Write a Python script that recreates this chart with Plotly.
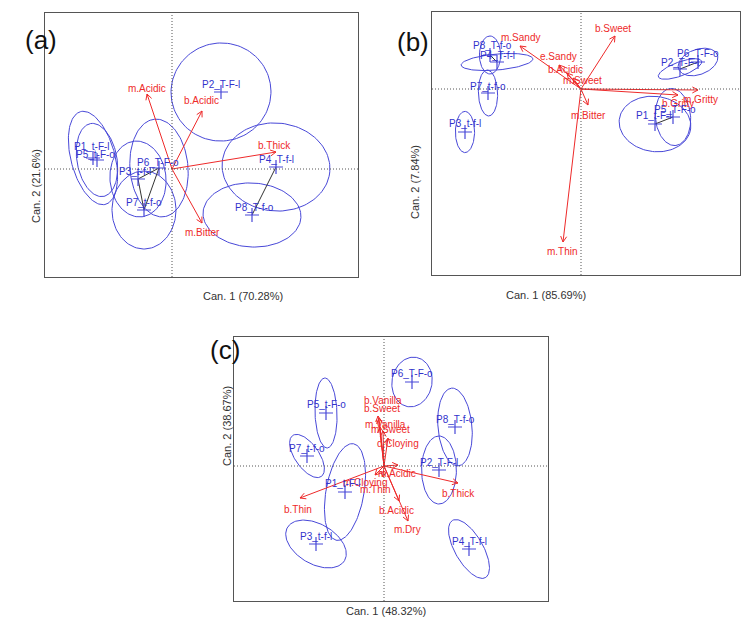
import numpy as np
import plotly.graph_objects as go

# ---------------- panel (a) ----------------
a_groups = ["P1_t-F-l", "P2_T-F-l", "P3_t-f-l", "P4_T-f-l",
            "P5_t-F-o", "P6_T-F-o", "P7_t-f-o", "P8_T-f-o"]
a_can1 = [-3.95, 2.45, -1.7, 5.2, -3.75, -0.65, -1.4, 4.0]
a_can2 = [0.55, 3.85, -0.5, 0.1, 0.45, 0.05, -2.05, -2.3]
a_ell_major = [2.4, 2.5, 1.9, 2.7, 1.85, 2.45, 1.95, 2.45]
a_ell_minor = [1.1, 2.45, 1.4, 2.2, 1.0, 1.45, 1.6, 1.6]
a_ell_angle = [105, 10, 95, -5, 100, 95, 90, -3]
a_vars = ["m.Acidic", "b.Acidic", "b.Thick", "m.Bitter"]
a_vx = [-1.25, 1.5, 5.2, 1.5]
a_vy = [3.75, 2.9, 0.85, -2.7]
a_links = [("P3_t-f-l", "P6_T-F-o"), ("P6_T-F-o", "P7_t-f-o"),
           ("P3_t-f-l", "P7_t-f-o"), ("P4_T-f-l", "P8_T-f-o")]

# ---------------- panel (b) ----------------
b_groups = ["P1_t-F-l", "P2_T-F-l", "P3_t-f-l", "P4_T-f-l",
            "P5_T-F-o", "P6_T-F-o", "P7_t-f-o", "P8_T-f-o"]
b_can1 = [3.7, 4.95, -5.8, -4.2, 4.6, 5.85, -4.65, -4.55]
b_can2 = [-1.75, 1.0, -2.15, 1.35, -1.4, 1.35, -0.2, 1.7]
b_ell_major = [1.8, 1.15, 1.03, 1.8, 1.43, 1.03, 1.15, 0.95]
b_ell_minor = [1.38, 0.35, 0.48, 0.4, 0.88, 0.63, 0.48, 0.53]
b_ell_angle = [-8, 20, 90, 5, 95, 20, 92, 90]
b_vars = ["m.Sandy", "e.Sandy", "b.Acidic", "m.Sweet", "b.Sweet",
          "m.Bitter", "m.Thin", "m.Gritty", "b.Gritty"]
b_vx = [-3.05, -1.1, -0.7, -0.4, 1.7, 0.35, -0.9, 5.85, 4.85]
b_vy = [2.15, 1.2, 0.8, 0.55, 2.65, -0.8, -7.65, -0.05, -0.3]
b_links = [("P8_T-f-o", "P4_T-f-l"), ("P2_T-F-l", "P6_T-F-o"),
           ("P1_t-F-l", "P5_T-F-o")]

# ---------------- panel (c) ----------------
c_groups = ["P1_t-F-l", "P2_T-F-l", "P3_t-f-l", "P4_T-f-l",
            "P5_t-F-o", "P6_T-F-o", "P7_t-f-o", "P8_T-f-o"]
c_can1 = [-1.95, 2.75, -3.4, 4.25, -2.9, 1.4, -3.85, 3.55]
c_can2 = [-1.3, -0.2, -3.9, -4.15, 2.65, 4.2, 0.5, 1.95]
c_ell_major = [2.45, 1.7, 1.65, 1.65, 1.75, 1.25, 1.25, 1.95]
c_ell_minor = [0.95, 0.87, 1.0, 0.7, 0.55, 1.0, 0.6, 0.85]
c_ell_angle = [80, 90, -30, 120, 92, 80, 125, 95]
c_vars = ["b.Thin", "b.Thick", "b.Acidic", "m.Dry", "b.Vanilla", "b.Sweet",
          "m.Vanilla", "m.Sweet", "d.Cloying", "m.Acidic", "m.Cloying", "m.Thin"]
c_vx = [-4.2, 3.7, 0.75, 1.2, -0.3, -0.25, -0.2, -0.05, 0.2, 0.7, -0.45, -0.05]
c_vy = [-1.6, -0.85, -1.75, -2.75, 2.5, 2.4, 1.95, 1.75, 1.4, 0.05, -0.45, -0.55]
c_links = []

# ---------------- styling / placement ----------------
W, H = 741, 625
PX_PER_UNIT = 20.0
FONT = "Liberation Sans, Arial, sans-serif"
BLUE_LINE = "#4848d8"
BLUE_TEXT = "#3232cc"
RED = "#ee2a2a"
FRAME = "#555555"

# label offsets in pixels (dx, dy up)
a_var_shift = [(0, 6), (-1, 11), (-2, 7), (0, -9)]
b_var_shift = [(0, 9), (-1, 9), (-2, 4), (9, -2), (-2, 8), (0, -10), (-1, -9), (2, -9), (0, -8)]
c_var_shift = [(-2, -11), (0, -10), (-3, -9), (-1, -8), (5, 16), (3, 10),
               (5, 3), (7, 2), (10, -5), (-1, -8), (-10, -7), (-8, -12)]
a_grp_shift = [(-1, 12), (0, 8), (-3, 8), (0, 8), (-2, 6), (-1, 6), (0, 8), (2, 8)]
b_grp_shift = [(-1, 9), (0, 7), (0, 9), (1, 7), (2, 8), (0, 9), (0, 7), (3, 10)]
c_grp_shift = [(-2, 9), (0, 8), (0, 8), (0, 8), (0, 9), (0, 9), (0, 8), (0, 8)]

# frame boxes in pixels: left, right, top, bottom; origin pixel (x0, y0)
panels = [
    dict(box=(45, 358, 13, 277), origin=(172, 169), tag="(a)", tag_xy=(23, 23),
         xt="Can. 1 (70.28%)", xt_xy=(201, 296), yt="Can. 2 (21.6%)", yt_xy=(28, 147),
         groups=a_groups, cx=a_can1, cy=a_can2, ea=a_ell_major, eb=a_ell_minor, eang=a_ell_angle,
         vars=a_vars, vx=a_vx, vy=a_vy, links=a_links, vshift=a_var_shift, gshift=a_grp_shift),
    dict(box=(432, 740, 12, 275), origin=(581, 89), tag="(b)", tag_xy=(413, 25),
         xt="Can. 1 (85.69%)", xt_xy=(588, 295), yt="Can. 2 (7.84%)", yt_xy=(415, 143),
         groups=b_groups, cx=b_can1, cy=b_can2, ea=b_ell_major, eb=b_ell_minor, eang=b_ell_angle,
         vars=b_vars, vx=b_vx, vy=b_vy, links=b_links, vshift=b_var_shift, gshift=b_grp_shift),
    dict(box=(234, 548, 337, 601), origin=(384, 466), tag="(c)", tag_xy=(208, 350),
         xt="Can. 1 (48.32%)", xt_xy=(386, 619), yt="Can. 2 (38.67%)", yt_xy=(219, 468),
         groups=c_groups, cx=c_can1, cy=c_can2, ea=c_ell_major, eb=c_ell_minor, eang=c_ell_angle,
         vars=c_vars, vx=c_vx, vy=c_vy, links=c_links, vshift=c_var_shift, gshift=c_grp_shift),
]


def ellipse(x0, y0, a, b, ang_deg, n=120):
    t = np.linspace(0, 2 * np.pi, n)
    th = np.deg2rad(ang_deg)
    ex = a * np.cos(t)
    ey = b * np.sin(t)
    return (x0 + ex * np.cos(th) - ey * np.sin(th),
            y0 + ex * np.sin(th) + ey * np.cos(th))


fig = go.Figure()
annotations = []
shapes = []
layout_axes = {}

for i, p in enumerate(panels):
    k = "" if i == 0 else str(i + 1)
    xa, ya = "x" + k, "y" + k
    left, right, top, bottom = p["box"]
    ox, oy = p["origin"]
    xr = [(left - ox) / PX_PER_UNIT, (right - ox) / PX_PER_UNIT]
    yr = [(oy - bottom) / PX_PER_UNIT, (oy - top) / PX_PER_UNIT]
    common = dict(showgrid=False, zeroline=False, showticklabels=False, ticks="",
                  showline=True, mirror=True, linecolor=FRAME, linewidth=1, fixedrange=True)
    layout_axes["xaxis" + k] = dict(domain=[left / W, right / W], range=xr, anchor=ya, **common)
    layout_axes["yaxis" + k] = dict(domain=[1 - bottom / H, 1 - top / H], range=yr, anchor=xa, **common)

    # dotted reference lines through the origin
    dotted = dict(color="#555555", width=1, dash="1px,2px")
    shapes.append(dict(type="line", xref=xa, yref=ya + " domain", x0=0, x1=0, y0=0, y1=1,
                       line=dotted))
    shapes.append(dict(type="line", xref=xa + " domain", yref=ya, x0=0, x1=1, y0=0, y1=0,
                       line=dotted))

    # confidence ellipses
    ex_all, ey_all = [], []
    for gx, gy, a, b, ang in zip(p["cx"], p["cy"], p["ea"], p["eb"], p["eang"]):
        ex, ey = ellipse(gx, gy, a, b, ang)
        ex_all += list(ex) + [None]
        ey_all += list(ey) + [None]
    fig.add_trace(go.Scatter(x=ex_all, y=ey_all, mode="lines", xaxis=xa, yaxis=ya,
                             line=dict(color=BLUE_LINE, width=1), hoverinfo="skip"))

    # links between non-separated group means
    idx = {g: j for j, g in enumerate(p["groups"])}
    lx, ly = [], []
    for g1, g2 in p["links"]:
        lx += [p["cx"][idx[g1]], p["cx"][idx[g2]], None]
        ly += [p["cy"][idx[g1]], p["cy"][idx[g2]], None]
    if lx:
        fig.add_trace(go.Scatter(x=lx, y=ly, mode="lines", xaxis=xa, yaxis=ya,
                                 line=dict(color="#333333", width=1), hoverinfo="skip"))

    # structure vectors with open arrow heads
    axs, ays = [], []
    head = 0.32
    for vx, vy in zip(p["vx"], p["vy"]):
        axs += [0, vx, None]
        ays += [0, vy, None]
        ang = np.arctan2(vy, vx)
        for d in (np.deg2rad(28), -np.deg2rad(28)):
            axs += [vx, vx - head * np.cos(ang + d), None]
            ays += [vy, vy - head * np.sin(ang + d), None]
    fig.add_trace(go.Scatter(x=axs, y=ays, mode="lines", xaxis=xa, yaxis=ya,
                             line=dict(color=RED, width=1), hoverinfo="skip"))
    for name, vx, vy, (dx, dy) in zip(p["vars"], p["vx"], p["vy"], p["vshift"]):
        annotations.append(dict(x=vx, y=vy, xref=xa, yref=ya, text=name, showarrow=False,
                                xshift=dx, yshift=dy, font=dict(family=FONT, size=10, color=RED)))

    # group means
    fig.add_trace(go.Scatter(x=p["cx"], y=p["cy"], mode="markers", xaxis=xa, yaxis=ya,
                             marker=dict(symbol="cross-thin", size=10,
                                         line=dict(color=BLUE_LINE, width=1.2)),
                             hoverinfo="skip"))
    for g, gx, gy, (dx, dy) in zip(p["groups"], p["cx"], p["cy"], p["gshift"]):
        annotations.append(dict(x=gx, y=gy, xref=xa, yref=ya, text=g, showarrow=False,
                                xshift=dx, yshift=dy, font=dict(family=FONT, size=10, color=BLUE_TEXT)))

    # panel tag and axis titles
    tx, ty = p["tag_xy"]
    annotations.append(dict(x=tx / W, y=1 - ty / H, xref="paper", yref="paper", text=p["tag"],
                            showarrow=False, font=dict(family=FONT, size=26, color="#111111")))
    tx, ty = p["xt_xy"]
    annotations.append(dict(x=tx / W, y=1 - ty / H, xref="paper", yref="paper", text=p["xt"],
                            showarrow=False, font=dict(family=FONT, size=11, color="#333333")))
    tx, ty = p["yt_xy"]
    annotations.append(dict(x=tx / W, y=1 - ty / H, xref="paper", yref="paper", text=p["yt"],
                            showarrow=False, textangle=-90,
                            font=dict(family=FONT, size=11, color="#333333")))

fig.update_layout(width=W, height=H, margin=dict(l=0, r=0, t=0, b=0),
                  paper_bgcolor="white", plot_bgcolor="white", showlegend=False,
                  annotations=annotations, shapes=shapes, **layout_axes)
fig.write_html("out.html")
